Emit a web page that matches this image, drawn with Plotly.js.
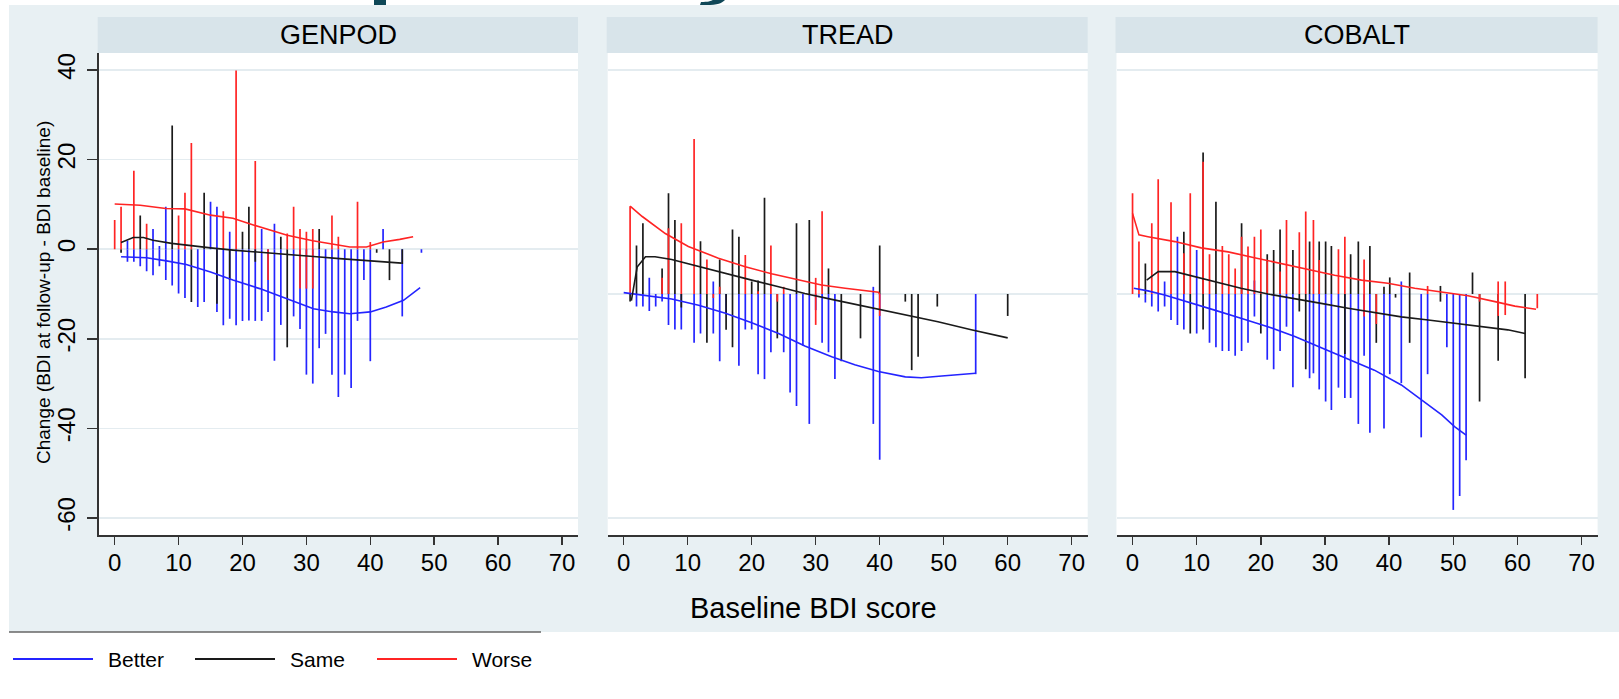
<!DOCTYPE html>
<html>
<head>
<meta charset="utf-8">
<script src="https://cdn.plot.ly/plotly-3.0.1.min.js"></script>
<style>html,body{margin:0;padding:0;background:#fff;}#chart{width:1619px;height:699px;}</style>
</head>
<body>
<div id="chart"></div>
<script>
// ---------- DATA ----------
const panels = ["GENPOD", "TREAD", "COBALT"];
const groups = ["Better", "Same", "Worse"];
const xTicks = [0, 10, 20, 30, 40, 50, 60, 70];
const yTicksGenpod = [-60, -40, -20, 0, 20, 40];
const yTicksOther = [-50, 0, 50];

// GENPOD spikes (baseline BDI, change)
const genpodBetterX = [2,2,3,4,5,6,6,7,7,8,8,9,10,11,13,14,15,16,16,17,18,18,19,20,21,22,23,23,24,25,25,26,28,29,30,31,32,33,34,35,36,37,38,39,40,42,45,48];
const genpodBetterY = [1.9,-2.8,-2.8,-3.8,-4.9,4.5,-5.8,0.7,-3.8,9.5,-6.9,-8.1,-9.9,-10.9,-12.9,-11.8,10.6,9.5,-14,-17,3.9,-15.5,-17,-16,-15.9,-16,4.5,-16,-14,5.7,-24.9,-16.9,-15,-17.8,-28,-30,-22.1,-18.9,-28,-33,-28,-31,-16,-6.9,-25,4.5,-15,-0.8];
const genpodSameX = [1,4,9,12,14,16,18,20,21,22,26,27,32,41,43,45];
const genpodSameY = [-0.8,7.5,27.6,-11.8,12.6,-12.2,-6.9,3.9,9.5,-2.8,2.8,-21.9,4.5,-0.8,-6.9,-3.3];
const genpodWorseX = [0,1,3,5,10,11,12,17,19,22,24,27,28,29,29,30,30,31,31,34,35,38,40];
const genpodWorseY = [6.5,9.5,17.5,5.7,7.5,12.6,23.7,8.5,39.9,19.7,-6.9,3.5,9.5,4.5,-8.8,3.9,-8.8,4.5,-8.8,7.5,2.8,10.6,1.6];
// GENPOD smoothed lines
const genpodBetterLineX = [1,5,8.1,11.2,15,18.5,22.7,26.9,31.1,34.2,36.8,40,42.5,45.2,47.8];
const genpodBetterLineY = [-1.7,-1.9,-2.6,-3.4,-5.1,-6.9,-8.8,-11,-13.3,-14,-14.4,-14,-12.9,-11.4,-8.6];
const genpodSameLineX = [1,2.9,4.5,6,8.9,11.8,15,18.5,22.7,26.9,31.6,35.2,39.4,42.5,44.9];
const genpodSameLineY = [1.5,2.6,2.6,2.0,1.3,0.9,0.3,-0.2,-0.7,-1.3,-1.7,-2.1,-2.5,-2.8,-3.1];
const genpodWorseLineX = [0,4,8,11,15,18.5,21.7,27,31,34.2,36.8,39.4,42,44.6,46.7];
const genpodWorseLineY = [10.1,9.8,9.1,9,7.6,6.9,5.4,3.1,1.9,1.1,0.5,0.5,1.6,2.2,2.8];

// TREAD spikes
const treadBetterX = [2,3,4,4,5,6,7,8,9,11,12,14,14,15,16,18,19,20,21,22,23,25,26,27,28,29,30,31,32,33,39,39,40,55];
const treadBetterY = [-2.8,-2.8,3.6,-3.8,-2.8,-1.7,-6.9,-7.9,-7.9,-10.9,-8.8,2.8,-8.8,-15,-4.3,-16,-7.9,-7.9,-17.9,-19,-13,-13,-22,-25,-11.5,-29,-3.6,-10.9,-13,-19,1.6,-29,-37,-17.9];
const treadSameX = [1,2,3,6,7,8,9,12,13,15,16,17,17,18,20,21,22,24,27,29,32,34,37,40,44,45,46,49,60];
const treadSameY = [-1.7,10.8,15.8,5.7,22.5,16.5,-3,11.8,-10.9,7.7,-8,14.4,-11.9,12.8,2.8,3,21.5,-9.9,15.8,16.5,5.7,-15,-9.9,10.8,-1.7,-17,-14,-2.8,-4.9];
const treadWorseX = [1,6,7,9,11,13,14,15,19,21,23,24,25,30,30,31,40];
const treadWorseY = [19.6,3.6,14.7,15.8,34.6,7.7,-0.9,1.6,8.7,0.6,10.8,-1.7,1.6,3.6,-6.9,18.5,-4.9];
// TREAD smoothed lines
const treadBetterLineX = [0,3.9,7.5,11.7,15.9,20,24.2,28.3,32.5,36.1,39.8,44,46.5,49.7,53.3,55];
const treadBetterLineY = [0.3,-0.4,-1.1,-2.5,-4.3,-6.4,-8.8,-11.6,-14,-15.8,-17.3,-18.5,-18.7,-18.3,-17.9,-17.7];
const treadSameLineX = [1.2,2.1,3.4,4.9,7.5,11.7,15.9,20,24.2,28.3,32.5,36.7,40.8,45,49.1,54.3,59.5,60];
const treadSameLineY = [-1.5,6,8.3,8.3,7.7,6.1,4.6,3.1,1.6,0.1,-1.2,-2.5,-3.7,-4.9,-6.2,-8,-9.7,-9.8];
const treadWorseLineX = [1,2.9,6.5,10.1,14.8,19,23.1,27.3,30.9,34.6,39.8,40];
const treadWorseLineY = [19.6,17.3,13.5,10.6,8,6.1,4.5,3.1,2,1.3,0.4,0];

// COBALT spikes
const cobaltBetterX = [1,2,3,4,5,5,6,7,7,8,10,10,12,13,14,15,16,17,18,19,19,21,22,23,24,25,27.6,28.2,29.1,30.1,31,32.1,33.1,34,35.2,36.1,37,39.2,40.1,41.9,41.9,45,46,49,50,51,52];
const cobaltBetterY = [-0.8,-1.9,-2.8,-3.9,2.8,-2.8,-5.8,12.8,-6.9,-7.9,9.8,-8.8,-10.9,-11.9,-12.7,-12.7,-13.8,-12.7,-10.9,3,-5,-14.7,-16.8,-12.7,-7.3,-20.8,-18.8,-17.7,-21.3,-24,-25.9,-20.9,-23.2,-23.2,-29,-13.8,-31,-30,-17.9,2.8,-19.9,-32,-17.9,-11.9,-48.2,-45.1,-37.1];
const cobaltSameX = [2,8,9,11,11,13,17,20,21,22,23,25,26,27,27.6,29.1,30.1,31,33.1,34,35.2,37,38,39.2,40.1,41,43.2,43.2,48,48,53,54.1,57,61.2];
const cobaltSameY = [6.8,13.9,-8.8,31.6,-7.9,20.6,15.8,-8.8,8.9,9.8,14.4,9.8,-3.9,-16.8,11.7,11.7,11.7,10.7,-13.4,8.9,11.7,10.7,-10.9,1.6,3.7,-0.8,4.8,-10.9,1.8,-1.7,4.8,-24,-14.9,-18.8];
const cobaltWorseX = [0,1,3,4,6,8,9,11,12,14,15,16,17,18,19,20,21,23,24,26,27,28.2,29.1,32.1,33.1,36.1,36.1,38,46,54.1,57,57,58.1,58.1,63.1];
const cobaltWorseY = [22.5,11.7,15.8,25.6,20.5,9.1,22.5,29.5,8.9,10.7,8.9,5.7,12.8,10.6,12.8,14.4,7.3,5,16.5,13.8,18.4,16.5,7.6,10,12.8,7.7,-5,-6.7,1.8,-1.7,2.8,-4.9,2.8,-4.7,-3.2];
// COBALT smoothed lines
const cobaltBetterLineX = [0.2,2.4,5,8.6,12.8,16.9,21.1,25.3,29.4,33.6,37.7,41.9,45,48.2,50.2,52];
const cobaltBetterLineY = [1.3,0.7,-0.2,-1.7,-3.6,-5.4,-7.3,-9.5,-12,-14.4,-17,-20.3,-23.7,-27,-29.6,-31.5];
const cobaltSameLineX = [2.2,4,6.6,9.7,12.8,16.9,21.1,25.3,29.4,33.6,37.7,41.9,46.1,50.2,54.4,58.5,61.2];
const cobaltSameLineY = [3.1,5,5,3.9,2.9,1.3,0,-1,-2.1,-3.2,-4.2,-5.1,-5.8,-6.5,-7.3,-8,-8.8];
const cobaltWorseLineX = [0,1,2.4,6.6,10.7,14.9,19,23.2,27.3,31.5,35.7,39.8,44,48.2,52.3,56.5,59.6,62.9];
const cobaltWorseLineY = [18,13.2,12.8,11.7,10.3,9.4,8.1,6.8,5.4,4.2,3.1,2.4,1.3,0.5,-0.4,-1.7,-2.7,-3.4];

// ---------- STYLE ----------
const groupColors = {Better: "#2424ff", Same: "#1a1a1a", Worse: "#ff2424"};
const W = 1619, H = 699;
const px = x => x / W;
const py = y => 1 - y / H;
const FONT = '"Liberation Sans", Arial, Helvetica, sans-serif';

const spikeData = [
  {Better: [genpodBetterX, genpodBetterY], Same: [genpodSameX, genpodSameY], Worse: [genpodWorseX, genpodWorseY]},
  {Better: [treadBetterX, treadBetterY], Same: [treadSameX, treadSameY], Worse: [treadWorseX, treadWorseY]},
  {Better: [cobaltBetterX, cobaltBetterY], Same: [cobaltSameX, cobaltSameY], Worse: [cobaltWorseX, cobaltWorseY]}
];
const lineData = [
  {Better: [genpodBetterLineX, genpodBetterLineY], Same: [genpodSameLineX, genpodSameLineY], Worse: [genpodWorseLineX, genpodWorseLineY]},
  {Better: [treadBetterLineX, treadBetterLineY], Same: [treadSameLineX, treadSameLineY], Worse: [treadWorseLineX, treadWorseLineY]},
  {Better: [cobaltBetterLineX, cobaltBetterLineY], Same: [cobaltSameLineX, cobaltSameLineY], Worse: [cobaltWorseLineX, cobaltWorseLineY]}
];

const traces = [];
panels.forEach((p, i) => {
  const xa = i === 0 ? "x" : "x" + (i + 1);
  const ya = i === 0 ? "y" : "y" + (i + 1);
  groups.forEach(g => {
    const [xs, ys] = spikeData[i][g];
    const sx = [], sy = [];
    xs.forEach((x, k) => { sx.push(x, x, null); sy.push(0, ys[k], null); });
    traces.push({type: "scatter", mode: "lines", x: sx, y: sy, xaxis: xa, yaxis: ya,
      line: {color: groupColors[g], width: 1.7}, hoverinfo: "skip", name: g, showlegend: false, connectgaps: false});
  });
  groups.forEach(g => {
    const [lx, ly] = lineData[i][g];
    traces.push({type: "scatter", mode: "lines", x: lx, y: ly, xaxis: xa, yaxis: ya,
      line: {color: groupColors[g], width: 1.6}, name: g, showlegend: false});
  });
});

const plotLeft = [98.7, 607.7, 1116.5];
const plotRight = [578, 1087.7, 1597.6];
const plotTop = 53, plotBottom = 535;
const gridColor = "#e4ecf0";

function xAxis(i) {
  return {
    domain: [px(plotLeft[i]), px(plotRight[i])],
    anchor: i === 0 ? "y" : "y" + (i + 1),
    range: [-2.5, 72.5], tickvals: xTicks, ticktext: xTicks.map(String),
    ticks: "outside", ticklen: 8, tickwidth: 1.5, tickcolor: "#333",
    showline: true, linecolor: "#333", linewidth: 2,
    showgrid: false, zeroline: false, ticklabelstandoff: -3,
    tickfont: {size: 24, family: FONT, color: "#000"}, fixedrange: true
  };
}
function yAxisOther(i) {
  return {
    domain: [py(plotBottom), py(plotTop)], anchor: "x" + (i + 1),
    range: [-53.8, 53.8], tickvals: yTicksOther, showticklabels: false, ticks: "",
    showline: false, showgrid: true, gridcolor: gridColor, gridwidth: 1.5, zeroline: false, fixedrange: true
  };
}

const shapes = [];
// outer graph region
shapes.push({type: "rect", xref: "paper", yref: "paper", layer: "below", x0: px(9), x1: px(1619), y0: py(632), y1: py(5), fillcolor: "#e8f0f3", line: {width: 0}});
panels.forEach((p, i) => {
  shapes.push({type: "rect", xref: "paper", yref: "paper", layer: "below", x0: px(plotLeft[i]), x1: px(plotRight[i]), y0: py(plotBottom), y1: py(plotTop), fillcolor: "#ffffff", line: {width: 0}});
  shapes.push({type: "rect", xref: "paper", yref: "paper", layer: "below", x0: px(plotLeft[i] - 1), x1: px(plotRight[i]), y0: py(53), y1: py(17), fillcolor: "#d8e4ea", line: {width: 0}});
});
// line above legend
shapes.push({type: "line", xref: "paper", yref: "paper", x0: px(9), x1: px(541), y0: py(632), y1: py(632), line: {color: "#666", width: 1.5}});
// legend sample lines
const legendLineX = [13, 195, 377];
const legendTextX = [106, 288, 470];
groups.forEach((g, k) => {
  shapes.push({type: "line", xref: "paper", yref: "paper", x0: px(legendLineX[k]), x1: px(legendLineX[k] + 80), y0: py(659), y1: py(659), line: {color: groupColors[g], width: 2}});
});
// fragments of the slide title cut off at the top edge
shapes.push({type: "rect", xref: "paper", yref: "paper", x0: px(374), x1: px(386), y0: py(5), y1: py(0), fillcolor: "#0f4757", line: {width: 0}});
shapes.push({type: "path", xref: "paper", yref: "paper",
  path: `M ${px(713)} ${py(0)} L ${px(725)} ${py(0)} C ${px(722)} ${py(3)} ${px(718)} ${py(5)} ${px(706)} ${py(5)} L ${px(700)} ${py(5)} L ${px(701)} ${py(2)} C ${px(708)} ${py(2)} ${px(711)} ${py(1)} ${px(713)} ${py(0)} Z`,
  fillcolor: "#0f4757", line: {width: 0}});

const annotations = [];
panels.forEach((p, i) => {
  annotations.push({xref: "paper", yref: "paper", x: px((plotLeft[i] + plotRight[i]) / 2), y: py(35), text: p, showarrow: false,
    xanchor: "center", yanchor: "middle", font: {size: 27, family: FONT, color: "#000"}});
});
annotations.push({xref: "paper", yref: "paper", x: px(813), y: py(608), text: "Baseline BDI score", showarrow: false,
  xanchor: "center", yanchor: "middle", font: {size: 29, family: FONT, color: "#000"}});
annotations.push({xref: "paper", yref: "paper", x: px(43), y: py(293), text: "Change (BDI at follow-up - BDI baseline)", showarrow: false,
  textangle: -90, xanchor: "center", yanchor: "middle", font: {size: 19, family: FONT, color: "#000"}});
groups.forEach((g, k) => {
  annotations.push({xref: "paper", yref: "paper", x: px(legendTextX[k]), y: py(659), text: g, showarrow: false,
    xanchor: "left", yanchor: "middle", font: {size: 21, family: FONT, color: "#000"}});
});

const layout = {
  width: W, height: H, margin: {l: 0, r: 0, t: 0, b: 0, pad: 0},
  paper_bgcolor: "#ffffff", plot_bgcolor: "rgba(0,0,0,0)", showlegend: false,
  font: {family: FONT, color: "#000"},
  xaxis: xAxis(0), xaxis2: xAxis(1), xaxis3: xAxis(2),
  yaxis: {
    domain: [py(plotBottom), py(plotTop)], anchor: "x",
    range: [-63.8, 43.8], tickvals: yTicksGenpod, ticktext: yTicksGenpod.map(String),
    ticks: "outside", ticklen: 10, tickwidth: 1.5, tickcolor: "#333",
    showline: true, linecolor: "#333", linewidth: 2, tickangle: -90, ticklabelstandoff: 2,
    tickfont: {size: 24, family: FONT, color: "#000"},
    showgrid: true, gridcolor: gridColor, gridwidth: 1.5, zeroline: false, fixedrange: true
  },
  yaxis2: yAxisOther(1), yaxis3: yAxisOther(2),
  shapes: shapes, annotations: annotations
};

Plotly.newPlot("chart", traces, layout, {staticPlot: true, displayModeBar: false});
</script>
</body>
</html>
